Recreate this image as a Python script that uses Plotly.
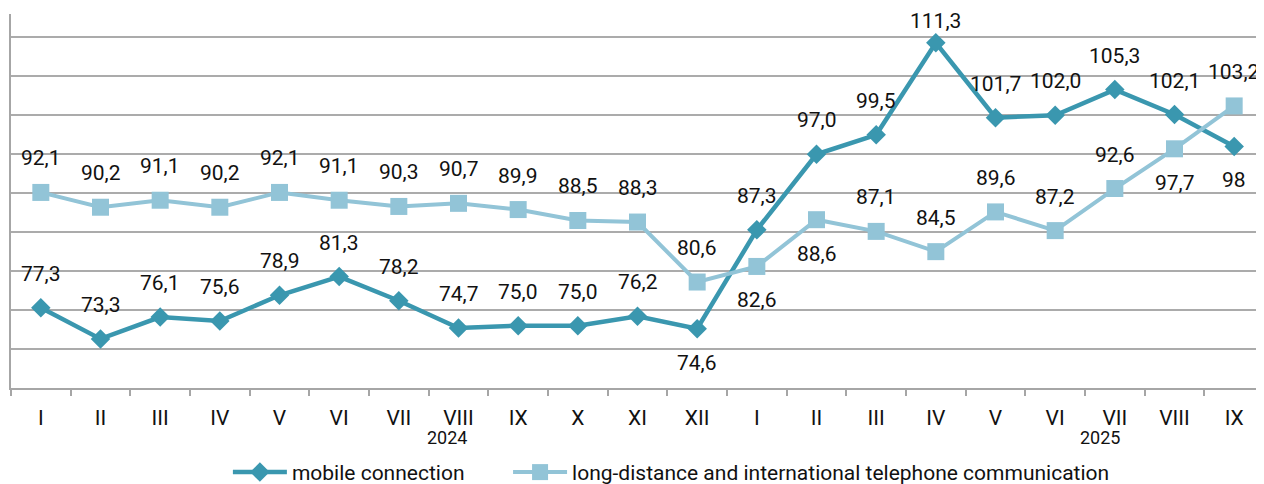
import plotly.graph_objects as go

months = ["I", "II", "III", "IV", "V", "VI", "VII", "VIII", "IX", "X", "XI", "XII",
          "I", "II", "III", "IV", "V", "VI", "VII", "VIII", "IX"]
years = ["2024", "2025"]
year_label_month_index = [7, 18]

mobile = [77.3, 73.3, 76.1, 75.6, 78.9, 81.3, 78.2, 74.7, 75.0, 75.0, 76.2, 74.6,
          87.3, 97.0, 99.5, 111.3, 101.7, 102.0, 105.3, 102.1, 98.0]
mobile_labels = ["77,3", "73,3", "76,1", "75,6", "78,9", "81,3", "78,2", "74,7", "75,0", "75,0", "76,2", "74,6",
                 "87,3", "97,0", "99,5", "111,3", "101,7", "102,0", "105,3", "102,1", "98"]
longdist = [92.1, 90.2, 91.1, 90.2, 92.1, 91.1, 90.3, 90.7, 89.9, 88.5, 88.3, 80.6,
            82.6, 88.6, 87.1, 84.5, 89.6, 87.2, 92.6, 97.7, 103.2]
longdist_labels = ["92,1", "90,2", "91,1", "90,2", "92,1", "91,1", "90,3", "90,7", "89,9", "88,5", "88,3", "80,6",
                   "82,6", "88,6", "87,1", "84,5", "89,6", "87,2", "92,6", "97,7", "103,2"]

# label placement (style, px): positive = above the point, negative = below
A, B = 34, -34
mobile_label_shift = [A] * 11 + [B] + [A, A, A, 22, A, A, A, A, B]
longdist_label_shift = [A] * 12 + [B, B, A, A, A, A, A, B, A]

series_names = ["mobile connection", "long-distance and international telephone communication"]

C_MOBILE = "#3A97AF"
C_LONG = "#92C4D7"
FONT = "Roboto"
TXT = "#111111"

x = list(range(len(months)))

fig = go.Figure()
fig.add_trace(go.Scatter(
    x=x, y=mobile, name=series_names[0], mode="lines+markers", legend="legend",
    line=dict(color=C_MOBILE, width=4.5),
    marker=dict(symbol="diamond", size=15, color=C_MOBILE),
))
fig.add_trace(go.Scatter(
    x=x, y=longdist, name=series_names[1], mode="lines+markers", legend="legend2",
    line=dict(color=C_LONG, width=4),
    marker=dict(symbol="square", size=17, color=C_LONG),
))

annotations = []
for vals, labs, shifts in [(mobile, mobile_labels, mobile_label_shift),
                           (longdist, longdist_labels, longdist_label_shift)]:
    for i, (v, t, s) in enumerate(zip(vals, labs, shifts)):
        annotations.append(dict(
            x=i, y=v, xref="x", yref="y", text=t, showarrow=False,
            yanchor="middle", xanchor="center", yshift=s,
            font=dict(family=FONT, size=21, color=TXT),
        ))

for yr, idx, dx in zip(years, year_label_month_index, [-12, -15]):
    annotations.append(dict(
        x=idx, y=0, xref="x", yref="paper", text=yr, showarrow=False,
        yanchor="middle", xanchor="center", yshift=-49, xshift=dx,
        font=dict(family=FONT, size=18, color=TXT),
    ))

legend_common = dict(orientation="h", xanchor="left", y=-0.171, yanchor="top",
                     font=dict(family=FONT, size=21, color=TXT),
                     itemwidth=54, bgcolor="rgba(0,0,0,0)")

# page has an 8px body margin, so the figure is drawn 8px smaller and offset
fig.update_layout(
    width=1256, height=476,
    margin=dict(l=3, r=0, t=6, b=96, autoexpand=False),
    paper_bgcolor="white", plot_bgcolor="white",
    font=dict(family=FONT, size=21, color=TXT),
    showlegend=True,
    legend=dict(x=0.1731, **legend_common),
    legend2=dict(x=0.3967, **legend_common),
    annotations=annotations,
)
fig.update_xaxes(
    range=[-0.5, len(months) - 0.5], automargin=False,
    tickmode="array", tickvals=x, ticktext=months,
    ticks="", showgrid=False, zeroline=False,
    showline=True, linecolor="#A6A6A6", linewidth=1.5,
    tickfont=dict(family=FONT, size=21, color=TXT),
    ticklabelstandoff=10,
    minor=dict(tickmode="linear", tick0=-0.5, dtick=1, ticks="outside",
               ticklen=6, tickcolor="#A6A6A6", tickwidth=1.5, showgrid=False),
)
fig.update_yaxes(
    range=[67, 115], tickmode="linear", tick0=67, dtick=5, automargin=False,
    showticklabels=False, ticks="",
    showgrid=True, gridcolor="#ABABAB", gridwidth=1.5,
    zeroline=False, showline=True, linecolor="#A6A6A6", linewidth=1.5,
)

fig.write_html("out.html")
